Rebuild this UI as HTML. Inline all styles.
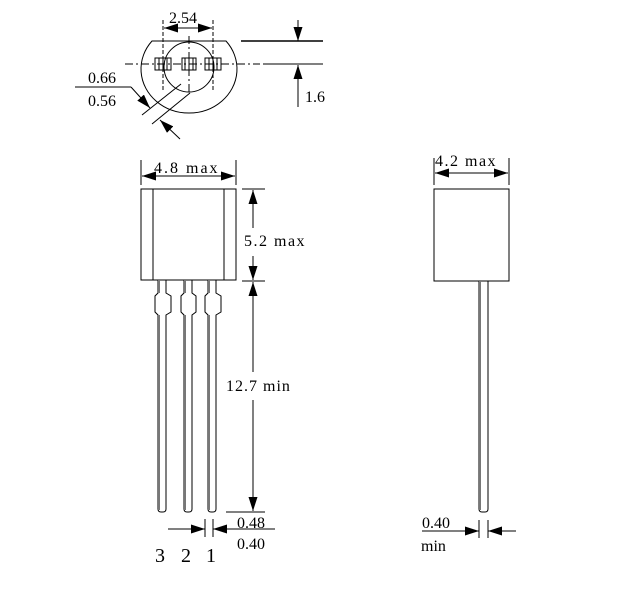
<!DOCTYPE html>
<html><head><meta charset="utf-8"><style>
html,body{margin:0;padding:0;background:#fff}
svg{display:block}
text{font-family:"Liberation Serif",serif;fill:#000}
</style></head><body>
<svg width="644" height="602" viewBox="0 0 644 602" xmlns="http://www.w3.org/2000/svg">
<defs>
<marker id="b" viewBox="0 0 10 10" refX="10" refY="5" markerWidth="14" markerHeight="9" markerUnits="userSpaceOnUse" orient="auto" preserveAspectRatio="none"><path d="M0,0 L10,5 L0,10 z" fill="#000"/></marker>
</defs>
<g stroke="#000" stroke-width="1" fill="none">
<!-- TOP VIEW -->
<line x1="163" y1="20" x2="163" y2="90" stroke-dasharray="4,2"/>
<line x1="213" y1="20" x2="213" y2="90" stroke-dasharray="4,2"/>
<line x1="188" y1="28" x2="164" y2="28" marker-end="url(#b)"/>
<line x1="188" y1="28" x2="212" y2="28" marker-end="url(#b)"/>
<path d="M152,41 L226,41 A48,44 0 1 1 152,41 Z"/>
<circle cx="189" cy="67" r="25"/>
<line x1="125" y1="64" x2="260" y2="64" stroke-dasharray="8,3,2,3"/>
<line x1="189" y1="36" x2="189" y2="93" stroke-dasharray="8,3,2,3"/>
<rect x="155" y="58" width="8" height="12"/><rect x="163" y="58" width="8" height="12"/>
<line x1="159" y1="58" x2="159" y2="70"/><line x1="167" y1="58" x2="167" y2="70"/>
<rect x="182" y="58" width="7" height="12"/><rect x="189" y="58" width="7" height="12"/>
<line x1="185" y1="58" x2="185" y2="70"/><line x1="193" y1="58" x2="193" y2="70"/>
<rect x="205" y="58" width="8" height="12"/><rect x="213" y="58" width="8" height="12"/>
<line x1="209" y1="58" x2="209" y2="70"/><line x1="217" y1="58" x2="217" y2="70"/>
<line x1="241" y1="41" x2="323" y2="41" stroke-width="1.5"/>
<line x1="263" y1="64" x2="323" y2="64"/>
<line x1="298" y1="20" x2="298" y2="41" marker-end="url(#b)"/>
<line x1="298" y1="107" x2="298" y2="65" marker-end="url(#b)"/>
<line x1="75" y1="87" x2="131" y2="87"/>
<line x1="131" y1="87" x2="150" y2="108" marker-end="url(#b)"/>
<line x1="181" y1="84" x2="142" y2="115"/>
<line x1="190" y1="93" x2="152" y2="124"/>
<line x1="180" y1="139" x2="160" y2="120" marker-end="url(#b)"/>
<!-- FRONT VIEW -->
<rect x="141" y="189" width="95" height="91"/>
<line x1="153" y1="189" x2="153" y2="280"/>
<line x1="224" y1="189" x2="224" y2="280"/>
<line x1="141" y1="160" x2="141" y2="185"/>
<line x1="236" y1="160" x2="236" y2="185"/>
<line x1="188" y1="176" x2="142" y2="176" marker-end="url(#b)"/>
<line x1="188" y1="176" x2="235" y2="176" marker-end="url(#b)"/>
<line x1="242" y1="189" x2="265" y2="189"/>
<line x1="242" y1="281" x2="265" y2="281"/>
<line x1="253" y1="228" x2="253" y2="190" marker-end="url(#b)"/>
<line x1="253" y1="256" x2="253" y2="280" marker-end="url(#b)"/>
<line x1="253" y1="372" x2="253" y2="282" marker-end="url(#b)"/>
<line x1="253" y1="400" x2="253" y2="511" marker-end="url(#b)"/>
<line x1="226" y1="512" x2="265" y2="512"/>
<!-- leads -->
<path d="M158,280 V293 L155,296 V312 L158,315 V509 Q158,512 161,512 H163 Q166,512 166,509 V315 L171,312 V296 L166,293 V280"/>
<path d="M184,280 V293 L181,296 V312 L184,315 V509 Q184,512 187,512 H189 Q192,512 192,509 V315 L196,312 V296 L192,293 V280"/>
<path d="M208,280 V293 L205,296 V312 L208,315 V509 Q208,512 211,512 H213 Q216,512 216,509 V315 L221,312 V296 L216,293 V280"/>
<g stroke="#777" stroke-width="2">
<line x1="159" y1="280" x2="159" y2="293"/><line x1="159" y1="315" x2="159" y2="510"/>
<line x1="185" y1="280" x2="185" y2="293"/><line x1="185" y1="315" x2="185" y2="510"/>
<line x1="209" y1="280" x2="209" y2="293"/><line x1="209" y1="315" x2="209" y2="510"/>
</g>
<!-- bottom dims -->
<line x1="205" y1="519" x2="205" y2="537"/>
<line x1="213" y1="519" x2="213" y2="537"/>
<line x1="168" y1="529" x2="205" y2="529" marker-end="url(#b)"/>
<line x1="275" y1="529" x2="213" y2="529" marker-end="url(#b)"/>
<!-- SIDE VIEW -->
<rect x="434" y="189" width="75" height="92"/>
<line x1="434" y1="158" x2="434" y2="185"/>
<line x1="509" y1="158" x2="509" y2="185"/>
<line x1="470" y1="173" x2="435" y2="173" marker-end="url(#b)"/>
<line x1="470" y1="173" x2="508" y2="173" marker-end="url(#b)"/>
<path d="M479,281 V509 Q479,512 482,512 H485 Q488,512 488,509 V281"/>
<line x1="480" y1="281" x2="480" y2="510" stroke="#777" stroke-width="2"/>
<line x1="479" y1="520" x2="479" y2="538"/>
<line x1="488" y1="520" x2="488" y2="538"/>
<line x1="422" y1="531" x2="479" y2="531" marker-end="url(#b)"/>
<line x1="516" y1="531" x2="488" y2="531" marker-end="url(#b)"/>
</g>
<g font-size="16">
<text x="169" y="23">2.54</text>
<text x="305" y="102">1.6</text>
<text x="88" y="83">0.66</text>
<text x="88" y="106">0.56</text>
<text x="154" y="173" letter-spacing="2">4.8 max</text>
<text x="244" y="246" letter-spacing="1.5">5.2 max</text>
<text x="226" y="391" letter-spacing="1">12.7 min</text>
<text x="237" y="528">0.48</text>
<text x="237" y="549">0.40</text>
<text x="435" y="166" letter-spacing="1.5">4.2 max</text>
<text x="422" y="528">0.40</text>
<text x="421" y="551">min</text>
</g>
<g font-size="20">
<text x="155" y="562">3</text>
<text x="181" y="562">2</text>
<text x="206" y="562">1</text>
</g>
</svg>
</body></html>
